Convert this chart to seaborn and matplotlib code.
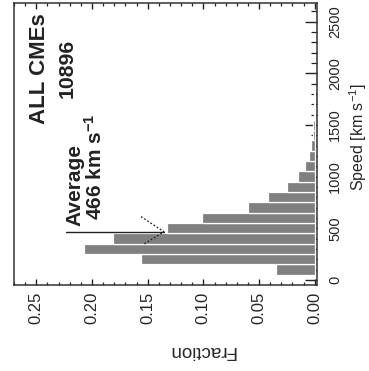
import numpy as np
import pandas as pd
import seaborn as sns
import matplotlib
matplotlib.use("Agg")
import matplotlib.pyplot as plt
from matplotlib.ticker import MultipleLocator

# ---- data ----
speed_centers = [100, 200, 300, 400, 500, 600, 700, 800, 900, 1000,
                 1100, 1200, 1300, 1400, 1500, 1600, 1700, 1800]
fractions = [0.035, 0.156, 0.207, 0.181, 0.133, 0.101, 0.060, 0.042, 0.0245,
             0.015, 0.009, 0.0054, 0.003, 0.002, 0.0015, 0.001, 0.0008, 0.0005]
bin_edges = [50 + 100 * i for i in range(19)]
avg_speed = 466
n_events = "10896"
title_text = "ALL CMEs"
speed_ticks = [0, 500, 1000, 1500, 2000, 2500]
fraction_ticks = [0.00, 0.05, 0.10, 0.15, 0.20, 0.25]

df = pd.DataFrame({"speed": speed_centers, "fraction": fractions})

sns.set_theme(style="ticks")
plt.rcParams["font.family"] = ["Liberation Sans", "DejaVu Sans"]
plt.rcParams["mathtext.fontset"] = "custom"
plt.rcParams["mathtext.rm"] = "Liberation Sans"
plt.rcParams["mathtext.bf"] = "Liberation Sans:bold"
plt.rcParams["mathtext.default"] = "regular"

fig = plt.figure(figsize=(3.69, 3.71), dpi=100)
ax = fig.add_axes([14 / 369, 1 - 285 / 371, (317 - 14) / 369, (285 - 2.7) / 371])

sns.histplot(data=df, y="speed", weights="fraction", bins=bin_edges, ax=ax,
             color="#808080", alpha=1.0, edgecolor="white", linewidth=0.9,
             stat="count")

ax.set_xlim(0.27, -0.002)
ax.set_ylim(-50, 2685)

for side in ["left", "right", "top", "bottom"]:
    ax.spines[side].set_visible(True)
    ax.spines[side].set_linewidth(1.1)
    ax.spines[side].set_color("#333333")

ax.yaxis.tick_right()
ax.yaxis.set_label_position("right")
ax.set_yticks(speed_ticks)
ax.yaxis.set_minor_locator(MultipleLocator(100))
ax.set_xticks(fraction_ticks)
ax.xaxis.set_minor_locator(MultipleLocator(0.01))
ax.set_xticklabels([f"{t:.2f}" for t in fraction_ticks], rotation=90)
ax.set_yticklabels([str(t) for t in speed_ticks], rotation=90, va="center")

ax.tick_params(axis="y", which="major", direction="in", length=9, width=1,
               right=True, left=False, labelsize=10.5, pad=8, color="#222222")
ax.tick_params(axis="y", which="minor", direction="in", length=4.5, width=0.9,
               right=True, left=False, color="#222222")
ax.tick_params(axis="x", which="major", direction="in", length=4.5, width=1,
               top=True, bottom=True, labelsize=12, pad=5, color="#222222")
ax.tick_params(axis="x", which="minor", direction="in", length=2.5, width=0.9,
               top=True, bottom=True, color="#222222")

ax.set_xlabel("Fraction", rotation=180, fontsize=13.5)
ax.xaxis.label.set_rotation_mode("anchor")
ax.xaxis.label.set_ha("center")
ax.xaxis.label.set_va("center")
ax.xaxis.set_label_coords((202 - 14) / 303, (285 - 351) / 282.3)

ax.set_ylabel("Speed [km s$^{-1}$]", rotation=90, fontsize=11.5)
ax.yaxis.label.set_rotation_mode("anchor")
ax.yaxis.label.set_ha("center")
ax.yaxis.label.set_va("center")
ax.yaxis.set_label_coords((358 - 14) / 303, (285 - 137) / 282.3)

# annotations
ax.text(0.2475, 2050, title_text, rotation=90, ha="center", va="center",
        fontsize=16, fontweight="bold", color="#222222")
ax.text(0.2224, 2050, n_events, rotation=90, ha="center", va="center",
        fontsize=15.3, fontweight="bold", color="#222222")
ax.text(0.2242, avg_speed + 60, "Average", rotation=90, ha="left", va="bottom",
        fontsize=15, fontweight="bold", color="#222222")
ax.text(0.1875, avg_speed + 110, f"{avg_speed} km s$^{{-1}}$", rotation=90,
        ha="right", va="bottom", fontsize=15, fontweight="bold", color="#222222")

# average marker line with dotted arrow head
line_top, line_tip = 0.2233, 0.1354
ax.plot([line_top, line_tip], [avg_speed, avg_speed], color="#222222", lw=1.0)
ax.plot([0.156, line_tip, 0.1545], [avg_speed + 147, avg_speed, avg_speed - 127],
        color="#222222", lw=0.9, ls=(0, (1.5, 1.5)))

fig.savefig("out.png", dpi=100)
